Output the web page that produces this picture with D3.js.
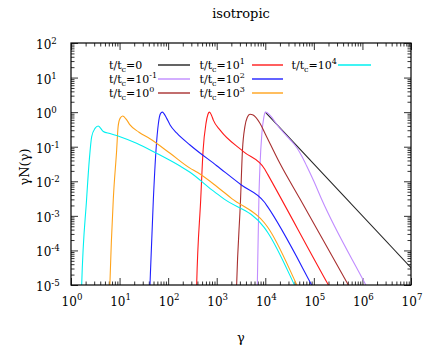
<!DOCTYPE html>
<html>
<head>
<meta charset="utf-8">
<script src="https://cdn.jsdelivr.net/npm/d3@7"></script>
<style>
  body { margin: 0; background: #fff; }
  svg text { fill: #000; }
</style>
</head>
<body>
<div id="chart"></div>
<script>
// curves, as [log10(gamma), log10(gamma N)]
const tc0    = [[4.0, 0], [7.0, -4.5]];
const tcM1   = [[3.82, -6], [3.836, -5], [3.87, -2.4], [3.89, -1.58], [3.93, -0.61], [3.97, -0.15], [4.0, 0],
                [4.3, -0.47], [4.5, -0.78], [4.65, -1.03], [4.75, -1.27], [4.85, -1.55], [5.0, -2.0],
                [5.16, -2.52], [6.07, -5], [6.2, -5.35]];
const tcE0   = [[3.40, -5.5], [3.41, -5], [3.49, -2.54], [3.53, -1.1], [3.58, -0.42], [3.63, -0.15], [3.685, -0.06],
                [3.75, -0.08], [3.89, -0.32], [4.0, -0.63], [4.3, -1.48], [4.71, -2.5], [5.19, -3.7],
                [5.71, -5], [5.8, -5.22]];
const tcE1   = [[2.57, -6], [2.587, -5], [2.67, -2.54], [2.72, -1.1], [2.78, -0.32], [2.82, -0.06], [2.85, 0],
                [2.89, -0.08], [2.93, -0.23], [3.07, -0.52], [3.55, -1.14], [3.99, -1.65], [4.05, -1.8],
                [5.30, -5], [5.4, -5.25]];
const tcE2   = [[1.60, -6], [1.626, -5], [1.695, -2.54], [1.75, -1.1], [1.80, -0.32], [1.84, -0.05], [1.88, 0],
                [1.97, -0.18], [2.04, -0.37], [2.18, -0.61], [2.45, -0.95], [3.0, -1.55], [3.5, -2.1],
                [3.98, -2.6], [4.04, -2.72], [4.955, -5], [5.05, -5.25]];
const tcE3   = [[0.78, -6], [0.80, -5], [0.87, -2.54], [0.94, -1.1], [0.97, -0.42], [1.01, -0.18], [1.064, -0.11],
                [1.15, -0.23], [1.215, -0.37], [1.4, -0.58], [1.626, -0.77], [2.04, -1.19], [2.45, -1.62],
                [2.6, -1.74], [3.0, -2.15], [3.31, -2.5], [3.98, -3.2], [4.05, -3.33], [4.65, -5], [4.7, -5.15]];
const tcE4   = [[0.20, -6], [0.22, -5], [0.32, -2.54], [0.377, -1.38], [0.426, -0.71], [0.494, -0.47], [0.56, -0.40],
                [0.665, -0.56], [0.80, -0.62], [1.01, -0.71], [1.35, -0.90], [1.76, -1.19], [2.244, -1.56],
                [2.45, -1.74], [2.9, -2.25], [3.14, -2.5], [3.98, -3.34], [4.05, -3.48], [4.6, -5], [4.65, -5.15]];

const curves   = [tc0, tcM1, tcE0, tcE1, tcE2, tcE3, tcE4];
const exps     = [null, '-1', '0', '1', '2', '3', '4'];   // t/t_c = 10^exp (null -> 0)
const colors   = ['#222222', '#c08cff', '#a83030', '#ff1a1a', '#2020ff', '#ffa31a', '#00f0f0'];

const xTickExps = [0, 1, 2, 3, 4, 5, 6, 7];
const yTickExps = [-5, -4, -3, -2, -1, 0, 1, 2];

const width = 436, height = 349;
const margin = [43, 64, 71, 25]; // top, bottom, left, right
const serif = "'DejaVu Serif', 'Liberation Serif', serif";

const svg = d3.select('#chart').append('svg')
    .attr('width', width)
    .attr('height', height)
    .style('font-family', serif);

const x = d3.scaleLog([1, 1e7], [margin[2], width - margin[3]]);
const y = d3.scaleLog([1e-5, 1e2], [height - margin[1], margin[0]]);

// clip for the curves
svg.append('clipPath').attr('id', 'plotclip')
    .append('rect')
    .attr('x', x(1)).attr('y', y(1e2))
    .attr('width', x(1e7) - x(1)).attr('height', y(1e-5) - y(1e2));

// minor tick values (2..9 per decade)
const minorOf = exps => exps.slice(0, -1)
    .flatMap(e => d3.range(2, 10).map(k => k * Math.pow(10, e)));
const xMajor = xTickExps.map(e => Math.pow(10, e));
const yMajor = yTickExps.map(e => Math.pow(10, e));
const xMinor = minorOf(xTickExps);
const yMinor = minorOf(yTickExps);

// ticks on all four sides, pointing inward
function ticks(gen, scale, values, size, tr) {
    svg.append('g')
        .attr('transform', tr)
        .call(gen(scale).tickValues(values).tickSize(-size).tickFormat(''))
        .call(g => g.select('.domain').remove())
        .call(g => g.selectAll('line').attr('stroke', '#333').attr('stroke-width', 1));
}
const bottomY = y(1e-5), topY = y(1e2), leftX = x(1), rightX = x(1e7);
[[xMajor, 7], [xMinor, 3.5]].forEach(([v, s]) => {
    ticks(d3.axisBottom, x, v, s, `translate(0,${bottomY})`);
    ticks(d3.axisTop, x, v, s, `translate(0,${topY})`);
});
[[yMajor, 7], [yMinor, 3.5]].forEach(([v, s]) => {
    ticks(d3.axisLeft, y, v, s, `translate(${leftX},0)`);
    ticks(d3.axisRight, y, v, s, `translate(${rightX},0)`);
});

// curves
const line = d3.line()
    .x(d => x(Math.pow(10, d[0])))
    .y(d => y(Math.pow(10, d[1])))
    .curve(d3.curveMonotoneX);

svg.append('g')
    .attr('clip-path', 'url(#plotclip)')
    .selectAll('path')
    .data(curves)
    .join('path')
    .attr('d', line)
    .attr('fill', 'none')
    .attr('stroke', (d, i) => colors[i])
    .attr('stroke-width', 1.1);

// frame
svg.append('rect')
    .attr('x', leftX).attr('y', topY)
    .attr('width', rightX - leftX).attr('height', bottomY - topY)
    .attr('fill', 'none').attr('stroke', '#000').attr('stroke-width', 1.2);

// power-of-ten label helper
function powerLabel(sel, exp, size) {
    const t = sel.append('text').attr('font-size', size).style('font-family', serif);
    t.append('tspan').text('10');
    t.append('tspan').attr('font-size', size * 0.72).attr('dy', -size * 0.42).text(exp);
    return t;
}

// x tick labels
xTickExps.forEach(e => {
    powerLabel(svg, e, 12)
        .attr('x', x(Math.pow(10, e)) + 1).attr('y', 305.5)
        .attr('text-anchor', 'middle');
});

// y tick labels
yTickExps.forEach(e => {
    powerLabel(svg, e, 12)
        .attr('x', 36).attr('y', y(Math.pow(10, e)) + 6);
});

// title and axis labels
svg.append('text')
    .attr('x', 241).attr('y', 17.5)
    .attr('text-anchor', 'middle').attr('font-size', 13)
    .style('font-family', serif)
    .text('isotropic');

svg.append('text')
    .attr('x', 241).attr('y', 342)
    .attr('text-anchor', 'middle').attr('font-size', 13)
    .style('font-family', serif)
    .text('γ');

svg.append('text')
    .attr('transform', 'translate(28.5,167) rotate(-90)')
    .attr('text-anchor', 'middle').attr('font-size', 13)
    .style('font-family', serif)
    .text('γN(γ)');

// legend (column-major, 3 rows)
const legendTextX = [109, 199.5, 291.5];
const legendLineX = [[158, 190], [252, 283], [338, 371]];
const legendRowY = [68.5, 82.5, 96.5];

curves.forEach((c, i) => {
    const col = Math.floor(i / 3), row = i % 3;
    const by = legendRowY[row];
    const t = svg.append('text')
        .attr('x', legendTextX[col]).attr('y', by)
        .attr('font-size', 11).style('font-family', serif);
    t.append('tspan').text('t/t');
    t.append('tspan').attr('font-size', 8).attr('dy', 3).text('c');
    if (exps[i] === null) {
        t.append('tspan').attr('dy', -3).text('=0');
    } else {
        t.append('tspan').attr('dy', -3).text('=10');
        t.append('tspan').attr('font-size', 8).attr('dy', -5).text(exps[i]);
    }
    svg.append('line')
        .attr('x1', legendLineX[col][0]).attr('x2', legendLineX[col][1])
        .attr('y1', by - 3.5).attr('y2', by - 3.5)
        .attr('stroke', colors[i]).attr('stroke-width', 1.4);
});
</script>
</body>
</html>
